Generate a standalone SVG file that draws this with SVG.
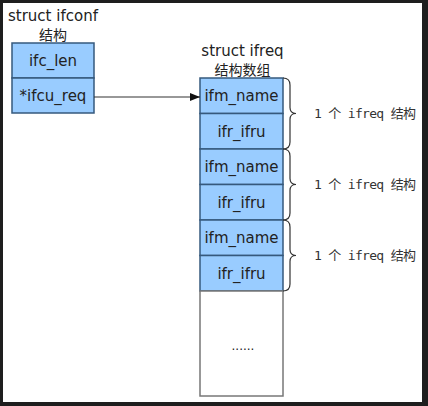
<svg xmlns="http://www.w3.org/2000/svg" width="428" height="406" viewBox="0 0 428 406">
<style>
.cell{fill:#99ccff;stroke:#36597d;stroke-width:1.5}
.t{font-family:"DejaVu Sans","Noto Sans CJK SC",sans-serif;font-size:15px;fill:#222}
.cjk{font-family:"Noto Sans CJK SC",sans-serif;font-size:14px;fill:#222}
.c{text-anchor:middle}
.lbl{font-family:"DejaVu Sans Mono","Noto Sans CJK SC",monospace;font-size:13px;fill:#333}
.brace{fill:none;stroke:#333;stroke-width:1.2}
</style>
<defs>
<marker id="ah" markerWidth="10" markerHeight="8" refX="10" refY="4" orient="auto" markerUnits="userSpaceOnUse">
<path d="M0,0 L10,4 L0,8 Z" fill="#111"/>
</marker>
</defs>
<rect x="0" y="0" width="428" height="406" fill="#1e1e1e"/>
<rect x="3" y="3" width="419" height="399" fill="#ffffff"/>

<g id="ifconf">
<text class="t" x="8" y="21">struct ifconf</text>
<text class="cjk c" x="53" y="40">结构</text>
<rect class="cell" x="12" y="43" width="82" height="35"/>
<text class="t c" x="53" y="66">ifc_len</text>
<rect class="cell" x="12" y="78" width="82" height="35"/>
<text class="t c" x="53" y="101">*ifcu_req</text>
</g>

<g id="ifreq-array">
<text class="t c" x="242.5" y="56">struct ifreq</text>
<text class="cjk c" x="242.5" y="75">结构数组</text>
<rect class="cell" x="200" y="78" width="83" height="35.5"/>
<text class="t c" x="241.5" y="101">ifm_name</text>
<rect class="cell" x="200" y="113.5" width="83" height="35.5"/>
<text class="t c" x="241.5" y="136.5">ifr_ifru</text>
<rect class="cell" x="200" y="149" width="83" height="35.5"/>
<text class="t c" x="241.5" y="172">ifm_name</text>
<rect class="cell" x="200" y="184.5" width="83" height="35.5"/>
<text class="t c" x="241.5" y="207.5">ifr_ifru</text>
<rect class="cell" x="200" y="220" width="83" height="35.5"/>
<text class="t c" x="241.5" y="243">ifm_name</text>
<rect class="cell" x="200" y="255.5" width="83" height="35.5"/>
<text class="t c" x="241.5" y="278.5">ifr_ifru</text>
<rect x="200" y="291" width="83" height="105" fill="#ffffff" stroke="#777" stroke-width="1.5"/>
<text class="t c" x="243" y="350" style="font-size:12px">......</text>
</g>

<g id="braces">
<path class="brace" d="M283,78 q7,0 7,7 V107.5 q0,6 6,6 q-6,0 -6,6 V142 q0,7 -7,7"/>
<path class="brace" d="M283,149 q7,0 7,7 V178.5 q0,6 6,6 q-6,0 -6,6 V213 q0,7 -7,7"/>
<path class="brace" d="M283,220 q7,0 7,7 V249.5 q0,6 6,6 q-6,0 -6,6 V284 q0,7 -7,7"/>
<text class="lbl" x="314" y="118" textLength="102" lengthAdjust="spacing">1 个 ifreq 结构</text>
<text class="lbl" x="314" y="189" textLength="102" lengthAdjust="spacing">1 个 ifreq 结构</text>
<text class="lbl" x="314" y="260" textLength="102" lengthAdjust="spacing">1 个 ifreq 结构</text>
</g>

<g id="connectors">
<line x1="94" y1="97" x2="200" y2="97" stroke="#333" stroke-width="1.2" marker-end="url(#ah)"/>
</g>
</svg>
